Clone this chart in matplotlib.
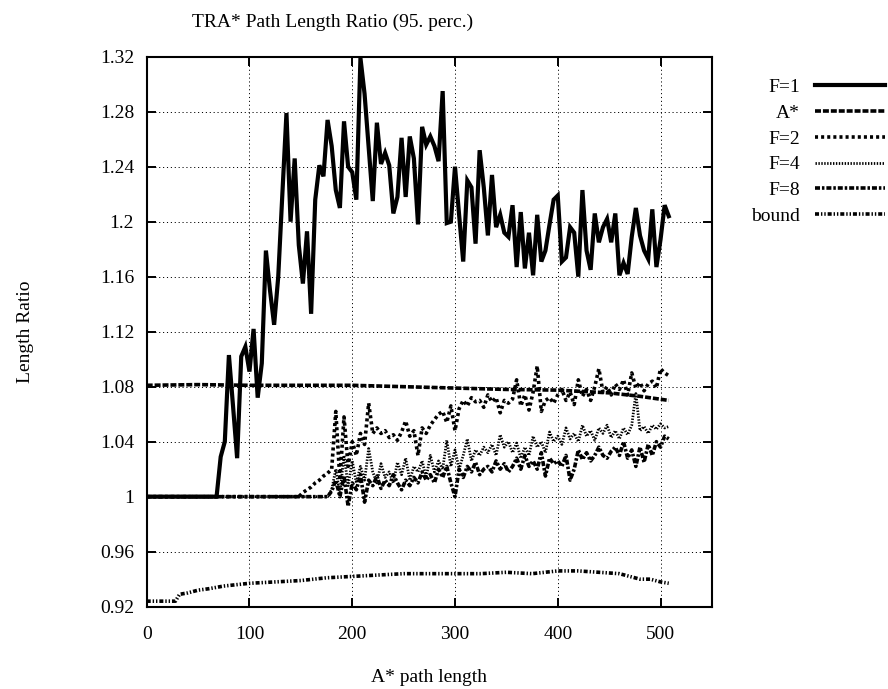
import matplotlib
matplotlib.use("Agg")
import matplotlib.pyplot as plt

# === Données (TRA*, 95e percentile) ===
# F=1 : plat à 1 jusqu'à ~68 puis pas de 4
x_f1 = [0, 68] + list(range(72, 509, 4))
y_f1 = [1.0, 1.0,
        1.029, 1.040, 1.103, 1.066, 1.028, 1.102, 1.109, 1.091, 1.122, 1.072,
        1.097, 1.179, 1.150, 1.125, 1.160, 1.220, 1.279, 1.200, 1.246, 1.183,
        1.155, 1.193, 1.133, 1.216, 1.241, 1.233, 1.274, 1.255, 1.223, 1.210,
        1.273, 1.240, 1.236, 1.216, 1.319, 1.293, 1.254, 1.215, 1.272, 1.242,
        1.250, 1.241, 1.206, 1.218, 1.261, 1.218, 1.262, 1.246, 1.198, 1.269,
        1.256, 1.262, 1.255, 1.244, 1.295, 1.199, 1.200, 1.240, 1.205, 1.171,
        1.230, 1.225, 1.184, 1.252, 1.225, 1.190, 1.234, 1.196, 1.205, 1.192,
        1.189, 1.212, 1.167, 1.207, 1.166, 1.192, 1.161, 1.205, 1.171, 1.179,
        1.198, 1.216, 1.219, 1.171, 1.174, 1.196, 1.192, 1.160, 1.223, 1.179,
        1.165, 1.206, 1.185, 1.196, 1.202, 1.185, 1.206, 1.161, 1.170, 1.162,
        1.189, 1.210, 1.190, 1.179, 1.173, 1.209, 1.167, 1.187, 1.212, 1.204]

x_astar = [0, 50, 100, 150, 200, 250, 300, 350, 400, 450, 480, 508]
y_astar = [1.081, 1.0815, 1.081, 1.081, 1.081, 1.080, 1.079, 1.078, 1.0775,
           1.0755, 1.073, 1.070]

x_f2 = [0, 148] + list(range(152, 509, 4))
y_f2 = [1.0, 1.0,
        1.003, 1.005, 1.007, 1.010, 1.012, 1.015, 1.017, 1.020, 1.062, 1.012,
        1.058, 1.022, 1.040, 1.030, 1.046, 1.038, 1.068, 1.046, 1.050, 1.046,
        1.048, 1.043, 1.045, 1.041, 1.047, 1.055, 1.044, 1.048, 1.030, 1.050,
        1.046, 1.052, 1.056, 1.060, 1.062, 1.054, 1.066, 1.048, 1.064, 1.070,
        1.066, 1.072, 1.069, 1.070, 1.065, 1.074, 1.069, 1.072, 1.061, 1.070,
        1.068, 1.071, 1.085, 1.066, 1.074, 1.063, 1.076, 1.095, 1.062, 1.070,
        1.072, 1.068, 1.074, 1.078, 1.070, 1.076, 1.067, 1.085, 1.073, 1.078,
        1.070, 1.080, 1.093, 1.076, 1.080, 1.074, 1.082, 1.078, 1.085, 1.074,
        1.090, 1.079, 1.083, 1.077, 1.082, 1.084, 1.079, 1.093, 1.090, 1.088]

x_f4 = [0, 176] + list(range(180, 509, 4))
y_f4 = [1.0, 1.0,
        1.005, 1.020, 1.002, 1.030, 1.008, 1.026, 1.010, 1.022, 1.012, 1.035,
        1.018, 1.010, 1.024, 1.014, 1.018, 1.010, 1.025, 1.016, 1.028, 1.012,
        1.022, 1.018, 1.026, 1.014, 1.030, 1.018, 1.026, 1.020, 1.041, 1.022,
        1.034, 1.020, 1.030, 1.042, 1.026, 1.034, 1.030, 1.036, 1.032, 1.038,
        1.030, 1.045, 1.036, 1.040, 1.032, 1.039, 1.028, 1.036, 1.030, 1.044,
        1.036, 1.040, 1.032, 1.047, 1.040, 1.044, 1.038, 1.050, 1.042, 1.046,
        1.040, 1.052, 1.044, 1.048, 1.041, 1.050, 1.046, 1.052, 1.043, 1.048,
        1.042, 1.050, 1.045, 1.052, 1.075, 1.048, 1.051, 1.046, 1.052, 1.049,
        1.053, 1.050, 1.051]

x_f8 = [0, 176] + list(range(180, 509, 4))
y_f8 = [1.0, 1.0,
        1.004, 1.012, 1.000, 1.015, 0.993, 1.010, 1.005, 1.016, 0.996, 1.012,
        1.008, 1.015, 1.006, 1.012, 1.008, 1.016, 1.010, 1.005, 1.012, 1.008,
        1.014, 1.010, 1.018, 1.012, 1.016, 1.010, 1.020, 1.014, 1.022, 1.010,
        1.000, 1.020, 1.014, 1.022, 1.018, 1.025, 1.016, 1.020, 1.022, 1.018,
        1.026, 1.020, 1.024, 1.018, 1.022, 1.028, 1.020, 1.030, 1.022, 1.026,
        1.020, 1.032, 1.015, 1.028, 1.024, 1.026, 1.022, 1.030, 1.012, 1.020,
        1.034, 1.027, 1.032, 1.026, 1.030, 1.036, 1.030, 1.028, 1.033, 1.036,
        1.030, 1.040, 1.028, 1.034, 1.022, 1.036, 1.025, 1.038, 1.030, 1.040,
        1.036, 1.044, 1.042]

x_bound = [0, 28, 32, 40, 50, 60, 75, 100, 125, 150, 175, 200, 225, 250, 275,
           300, 325, 350, 375, 400, 420, 440, 460, 470, 480, 490, 500, 508]
y_bound = [0.924, 0.924, 0.929, 0.930, 0.932, 0.933, 0.935, 0.937, 0.938,
           0.939, 0.941, 0.942, 0.943, 0.944, 0.944, 0.944, 0.944, 0.945,
           0.944, 0.946, 0.946, 0.945, 0.944, 0.942, 0.940, 0.940, 0.938, 0.937]

y_ticks = [0.92, 0.96, 1.0, 1.04, 1.08, 1.12, 1.16, 1.2, 1.24, 1.28, 1.32]
y_tick_labels = ["0.92", "0.96", "1", "1.04", "1.08", "1.12", "1.16", "1.2",
                 "1.24", "1.28", "1.32"]
x_ticks = [0, 100, 200, 300, 400, 500]

# === Style ===
plt.rcParams['font.family'] = ['Liberation Serif', 'DejaVu Serif']
plt.rcParams['font.size'] = 14
plt.rcParams['lines.scale_dashes'] = False

fig = plt.figure(figsize=(8.88, 6.89), dpi=100)
ax = fig.add_axes([0.1652, 0.1195, 0.6365, 0.7982])

lw = 2.6
ax.plot(x_f1, y_f1, color='black', lw=3.0, solid_joinstyle='miter', label='F=1')
ax.plot(x_astar, y_astar, color='black', lw=lw, dashes=(4.3, 1.4),
        dash_capstyle='butt', label='A*')
ax.plot(x_f2, y_f2, color='black', lw=lw, dashes=(2.2, 2.2),
        dash_capstyle='butt', label='F=2')
ax.plot(x_f4, y_f4, color='black', lw=2.0, dashes=(1.0, 1.1),
        dash_capstyle='butt', label='F=4')
ax.plot(x_f8, y_f8, color='black', lw=lw, dashes=(3.6, 1.4, 1.8, 1.4),
        dash_capstyle='butt', label='F=8')
ax.plot(x_bound, y_bound, color='black', lw=lw,
        dashes=(2.9, 1.4, 1.0, 1.4, 1.0, 1.4), dash_capstyle='butt',
        label='bound')

ax.set_xlim(0, 550)
ax.set_ylim(0.92, 1.32)
ax.set_xticks(x_ticks)
ax.set_yticks(y_ticks)
ax.set_yticklabels(y_tick_labels)
ax.tick_params(direction='in', length=6.5, width=1.4, top=True, right=True,
               labelsize=14)
ax.tick_params(axis='y', pad=9)
ax.tick_params(axis='x', pad=14)
for s in ax.spines.values():
    s.set_linewidth(1.5)
ax.grid(True, color='black', lw=0.7, linestyle=(0, (0.8, 2.0)))
ax.set_axisbelow(True)

ax.set_xlabel("A* path length", fontsize=14)
ax.xaxis.set_label_coords(0.5, -0.128)
ax.xaxis.label.set_verticalalignment('center')
ax.set_ylabel("Length Ratio", fontsize=14)
ax.yaxis.set_label_coords(-0.215, 0.5)
ax.yaxis.label.set_verticalalignment('center')

fig.text(0.374, 1 - 22 / 689, "TRA* Path Length Ratio (95. perc.)",
         ha='center', va='center', fontsize=14)

fig.legend(loc='upper right', bbox_to_anchor=(0.997, 0.886), frameon=False,
           markerfirst=False, handlelength=3.6, handletextpad=0.8,
           labelspacing=0.42, borderpad=0, borderaxespad=0, fontsize=14)

plt.savefig("out.png", dpi=100)
